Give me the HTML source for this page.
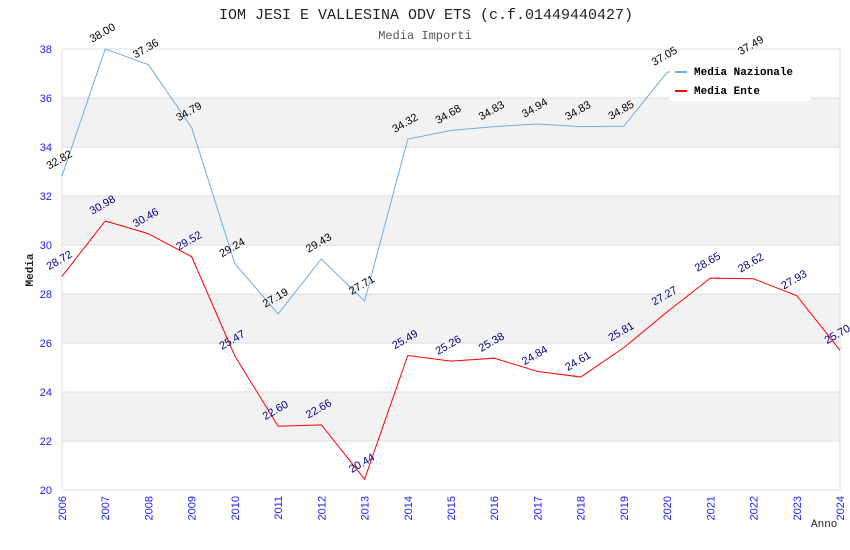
<!DOCTYPE html>
<html><head><meta charset="utf-8"><style>
body{margin:0;background:#fff}
svg{display:block}
</style></head><body>
<svg id="chart" width="850" height="550" xmlns="http://www.w3.org/2000/svg">
<text x="426" y="19" text-anchor="middle" font-family="Liberation Mono, monospace" font-size="15" fill="#222">IOM JESI E VALLESINA ODV ETS (c.f.01449440427)</text>
<text x="425" y="39" text-anchor="middle" font-family="Liberation Mono, monospace" font-size="12" fill="#555">Media Importi</text>
<g id="bands"></g><g id="grid"></g><g id="axes"></g><g id="series"></g><g id="labels"></g>
<g>
<rect x="670" y="58" width="140" height="43" fill="#fff"/>
<line x1="675" y1="72" x2="687" y2="72" stroke="#6aade4" stroke-width="2"/>
<text x="694" y="75" font-family="Liberation Mono, monospace" font-weight="bold" font-size="11" fill="#000">Media Nazionale</text>
<line x1="675" y1="91" x2="687" y2="91" stroke="#f00" stroke-width="2"/>
<text x="694" y="94" font-family="Liberation Mono, monospace" font-weight="bold" font-size="11" fill="#000">Media Ente</text>
</g>
<text transform="translate(33,270) rotate(-90)" text-anchor="middle" font-family="Liberation Mono, monospace" font-weight="bold" font-size="11" fill="#222">Media</text>
<text x="811" y="527" font-family="Liberation Mono, monospace" font-size="11" fill="#222">Anno</text>
</svg>
<script>
const years=[2006,2007,2008,2009,2010,2011,2012,2013,2014,2015,2016,2017,2018,2019,2020,2021,2022,2023,2024];
const nazionale=[32.82,38.00,37.36,34.79,29.24,27.19,29.43,27.71,34.32,34.68,34.83,34.94,34.83,34.85,37.05,37.3,37.49,null,null];
const nazionaleLabels=[true,true,true,true,true,true,true,true,true,true,true,true,true,true,true,false,true,false,false];
const ente=[28.72,30.98,30.46,29.52,25.47,22.60,22.66,20.44,25.49,25.26,25.38,24.84,24.61,25.81,27.27,28.65,28.62,27.93,25.70];
const yTicks=[20,22,24,26,28,30,32,34,36,38];
const X0=62,X1=840,Y0=490,Y1=49,YMIN=20,YMAX=38;
const NS='http://www.w3.org/2000/svg';
function xs(i){return X0+(X1-X0)*(i)/(years.length-1);}
function ys(v){return Y0-(v-YMIN)/(YMAX-YMIN)*(Y0-Y1);}
function mk(tag,attrs,parent){const e=document.createElementNS(NS,tag);for(const k in attrs)e.setAttribute(k,attrs[k]);document.getElementById(parent).appendChild(e);return e;}
for(let i=0;i<yTicks.length-1;i++){
  if(i%2===1){const b=mk('rect',{x:X0,y:ys(yTicks[i+1]),width:X1-X0,height:ys(yTicks[i])-ys(yTicks[i+1]),fill:'#f2f2f2'},'bands');
  
  }
}
yTicks.forEach(t=>{
  const l=mk('line',{x1:X0,x2:X1,y1:ys(t),y2:ys(t),stroke:'#ddd','stroke-width':1},'grid');
  
  
  const tx=mk('text',{x:X0-10,y:ys(t)+4,'text-anchor':'end','font-family':'Liberation Sans, sans-serif','font-size':11,fill:'#1a1aff'},'axes');
  
  
  tx.textContent=t;
});
const ax=mk('path',{d:`M${X0},${Y1}V${Y0}H${X1}V${Y1}`,fill:'none',stroke:'#ddd'},'axes');


years.forEach((yr,i)=>{
  const t=mk('text',{transform:`translate(${xs(i)+4},${Y0+6}) rotate(-90)`,'text-anchor':'end','font-family':'Liberation Sans, sans-serif','font-size':11,fill:'#1a1aff'},'axes');
  
  
  t.textContent=yr;
});
function series(vals,color,name,labelColor,show){
  let d='';vals.forEach((v,i)=>{if(v==null)return;d+=(d?'L':'M')+xs(i)+','+ys(v);});
  const p=mk('path',{d:d,fill:'none',stroke:color,'stroke-width':1},'series');
  
  
  vals.forEach((v,i)=>{
    if(v==null||(show&&!show[i]))return;
    const t=mk('text',{transform:`translate(${xs(i)-1},${ys(v)-13}) rotate(-30)`,'text-anchor':'middle','font-family':'Liberation Sans, sans-serif','font-size':11,fill:labelColor},'labels');
    
    
    t.textContent=v.toFixed(2);
  });
}
series(nazionale,'#6aade4','nazionale','#000',nazionaleLabels);
series(ente,'#f00','ente','#000080',null);
</script>
</body></html>
